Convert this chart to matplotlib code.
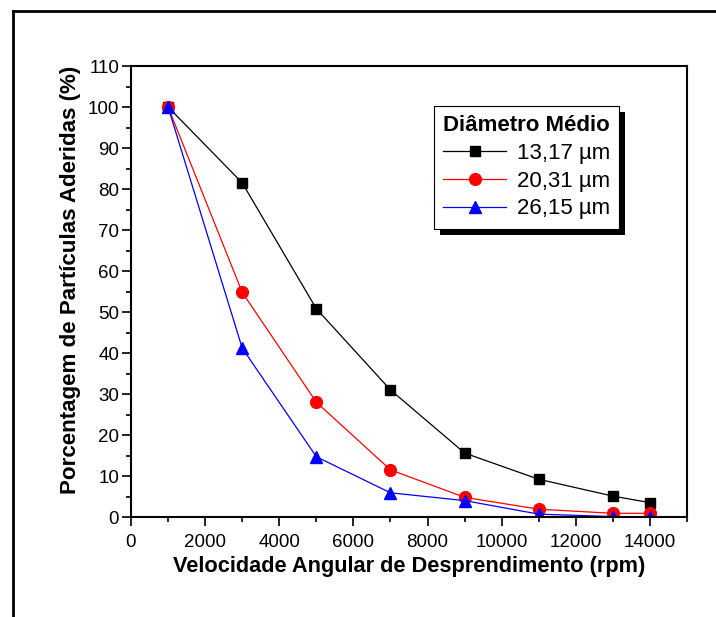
import matplotlib
matplotlib.use("Agg")
from matplotlib import pyplot as plt
from matplotlib.patches import Rectangle
from matplotlib.lines import Line2D
from matplotlib.transforms import IdentityTransform

plt.rcParams['font.family'] = ['Liberation Sans', 'DejaVu Sans']

rpm = [1000, 3000, 5000, 7000, 9000, 11000, 13000, 14000]
d_1317 = [100, 81.5, 50.8, 31.0, 15.6, 9.2, 5.1, 3.5]
d_2031 = [100, 54.8, 28.0, 11.5, 4.8, 1.9, 0.9, 0.9]
d_2615 = [100, 41.2, 14.7, 5.9, 4.0, 0.7, 0.1, 0.1]
labels = ["13,17 \u00b5m", "20,31 \u00b5m", "26,15 \u00b5m"]

fig = plt.figure(figsize=(7.16, 6.17), dpi=100)
ax = fig.add_axes([131 / 716, 1 - 517 / 617, (687 - 131) / 716, (517 - 66) / 617])

# moldura externa
fig.add_artist(Line2D([13 / 716, 13 / 716], [0, 1 - 11 / 617], transform=fig.transFigure, color='black', lw=2))
fig.add_artist(Line2D([13 / 716, 1], [1 - 11 / 617, 1 - 11 / 617], transform=fig.transFigure, color='black', lw=2))

ax.plot(rpm, d_1317, color='black', lw=0.9, marker='s', ms=7.5, label=labels[0])
ax.plot(rpm, d_2031, color='red', lw=0.9, marker='o', ms=8.5, label=labels[1])
ax.plot(rpm, d_2615, color='blue', lw=0.9, marker='^', ms=9, label=labels[2])

ax.set_xlim(0, 15000)
ax.set_ylim(0, 110)
ax.set_xticks(range(0, 15001, 2000))
ax.set_xticks(range(1000, 15001, 2000), minor=True)
ax.set_yticks(range(0, 111, 10))
ax.set_yticks(range(5, 111, 10), minor=True)
ax.tick_params(which='major', direction='out', length=6.5, width=1.2, labelsize=13.5, pad=2)
ax.tick_params(axis='x', which='major', pad=6)
ax.tick_params(which='minor', direction='out', length=3.5, width=1.2)
for s in ax.spines.values():
    s.set_linewidth(1.5)

ax.set_xlabel("Velocidade Angular de Desprendimento (rpm)", fontsize=15.7, fontweight='bold', labelpad=3)
ax.set_ylabel("Porcentagem de Partículas Aderidas (%)", fontsize=16.1, fontweight='bold')
ax.yaxis.set_label_coords(-0.09, 0.525)

leg = ax.legend(loc='upper left', bbox_to_anchor=(0.545, 0.911), title="Diâmetro Médio",
                title_fontproperties={'weight': 'bold', 'size': 16}, fontsize=16,
                numpoints=1, handlelength=2.8, handletextpad=0.5, labelspacing=0.3,
                fancybox=False, edgecolor='black', framealpha=1, borderpad=0.42,
                borderaxespad=0)
leg.get_frame().set_linewidth(0.8)
leg.set_zorder(6)

fig.canvas.draw()
bb = leg.get_window_extent()
shadow = Rectangle((bb.x0 + 6, bb.y0 - 6), bb.width, bb.height, transform=IdentityTransform(),
                   facecolor='black', edgecolor='none', zorder=5.5)
ax.add_artist(shadow)

fig.savefig("out.png", dpi=100)
